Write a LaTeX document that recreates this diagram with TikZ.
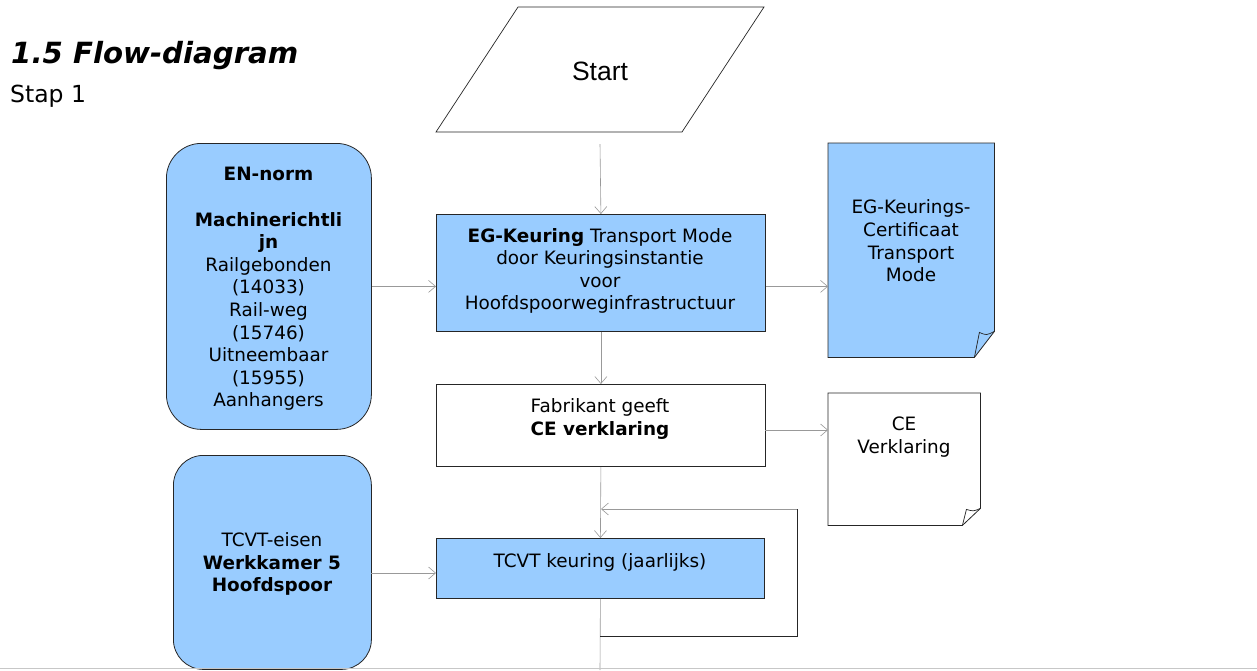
\documentclass[tikz,border=0pt]{standalone}
\usepackage{fontspec}
\setmainfont{DejaVu Sans}
\newfontfamily\arialf{Liberation Sans}
\usetikzlibrary{arrows.meta}
\definecolor{boxblue}{HTML}{99CCFF}
\definecolor{edgec}{HTML}{262626}
\definecolor{connc}{HTML}{999999}
\begin{document}
\begin{tikzpicture}[x=1pt,y=-1pt,
  txt/.style={font=\fontsize{18.4}{22.6}\selectfont, align=center, inner sep=0pt},
  box/.style={draw=edgec, line width=0.8pt, inner sep=0pt, anchor=north west},
  ghost/.style={draw=none, inner sep=0pt, anchor=north west},
  arr/.style={draw=connc, line width=0.6pt, -{Straight Barb[length=7pt,width=12pt]}},
  plain/.style={draw=connc, line width=0.6pt},
  dark/.style={draw=edgec, line width=0.8pt},
  doc/.style={draw=edgec, line width=0.8pt, line join=miter}]
\useasboundingbox (0,0) rectangle (1257,670);
\fill[white] (0,0) rectangle (1257,670);

% heading
\node[anchor=base west, inner sep=0pt, font=\fontsize{29.2}{32}\selectfont\bfseries\itshape] (title) at (11,63) {1.5 Flow-diagram};
\node[anchor=base west, inner sep=0pt, font=\fontsize{23.5}{26}\selectfont] (stap) at (10,102) {Stap 1};

% start parallelogram
\coordinate (p1) at (518,7);
\coordinate (p2) at (764,7);
\coordinate (p3) at (682,132);
\coordinate (p4) at (436,132);
\draw[dark, line width=0.7pt] (p1) -- (p2) -- (p3) -- (p4) -- cycle;
\node[inner sep=0pt, font=\arialf\fontsize{26.5}{29}\selectfont] (start) at (600,71) {Start};
\coordinate (s0) at (600,144);

% main boxes
\node[box, fill=boxblue, minimum width=329pt, minimum height=117pt] (eg) at (436,214) {};
\node[txt] (egt) at (600,271) {\textbf{EG-Keuring} Transport Mode\\door Keuringsinstantie\\voor\\Hoofdspoorweginfrastructuur};

\node[box, fill=white, minimum width=329pt, minimum height=82pt] (fab) at (436,384) {};
\node[txt] (fabt) at (600,419) {Fabrikant geeft\\\textbf{CE verklaring}};

\node[box, fill=boxblue, minimum width=328pt, minimum height=60pt] (tcvt) at (436,538) {};
\node[txt] (tcvtt) at (600,562) {TCVT keuring (jaarlijks)};

% rounded input boxes
\node[box, fill=boxblue, rounded corners=35pt, minimum width=205pt, minimum height=286pt] (en) at (166,143) {};
\node[txt] (ent) at (268.5,289) {\textbf{EN-norm}\\[22.6pt]\textbf{Machinerichtli}\\\textbf{jn}\\Railgebonden\\(14033)\\Rail-weg\\(15746)\\Uitneembaar\\(15955)\\Aanhangers};

\node[box, fill=boxblue, rounded corners=30pt, minimum width=198pt, minimum height=214pt] (tce) at (173,455) {};
\node[txt] (tcet) at (272,564) {TCVT-eisen\\\textbf{Werkkamer 5}\\\textbf{Hoofdspoor}};

% documents
\node[ghost, minimum width=166pt, minimum height=214pt] (cert) at (828,143) {};
\draw[doc, fill=boxblue] (cert.north west) -- (cert.north east) -- ([yshift=26pt]cert.south east) -- ([xshift=-20pt]cert.south east) -- (cert.south west) -- cycle;
\draw[doc, line width=0.7pt] ([xshift=-20pt]cert.south east) -- ([xshift=-15pt,yshift=25pt]cert.south east) .. controls ([xshift=-8pt,yshift=22pt]cert.south east) .. ([yshift=26pt]cert.south east);
\node[txt] (certt) at (911,241) {EG-Keurings-\\Certificaat\\Transport\\Mode};

\node[ghost, minimum width=152pt, minimum height=132pt] (ce) at (828,393) {};
\draw[doc, fill=white] (ce.north west) -- (ce.north east) -- ([yshift=17pt]ce.south east) -- ([xshift=-18pt]ce.south east) -- (ce.south west) -- cycle;
\draw[doc, line width=0.7pt] ([xshift=-18pt]ce.south east) -- ([xshift=-14pt,yshift=16pt]ce.south east) .. controls ([xshift=-7pt,yshift=14pt]ce.south east) .. ([yshift=17pt]ce.south east);
\node[txt] (cet) at (904,437) {CE\\Verklaring};

% connectors
\draw[arr] (s0) -- (eg.north);
\draw[arr] (en.east) -- (en.east -| eg.west);
\draw[arr] (en.east -| eg.east) -- (en.east -| cert.west);
\draw[arr] (eg.south) -- (fab.north);
\coordinate (fr) at (765,430);
\draw[arr] (fr) -- (fr -| ce.west);
\draw[arr] (fab.south) -- (tcvt.north);
\coordinate (te) at (371,573);
\draw[arr] (te) -- (te -| tcvt.west);

% yearly loop
\coordinate (tb) at (600,670);
\coordinate (l1) at (600,636);
\coordinate (l2) at (797,636);
\coordinate (l3) at (797,509);
\coordinate (l4) at (601,509);
\draw[plain] (tcvt.south) -- (tb);
\draw[dark] (l1) -- (l2) -- (l3);
\draw[arr] (l3) -- (l4);

% page rule
\coordinate (r1) at (0,668.5);
\coordinate (r2) at (1257,668.5);
\draw[draw=black!22, line width=1pt] (r1) -- (r2);
\end{tikzpicture}
\end{document}
